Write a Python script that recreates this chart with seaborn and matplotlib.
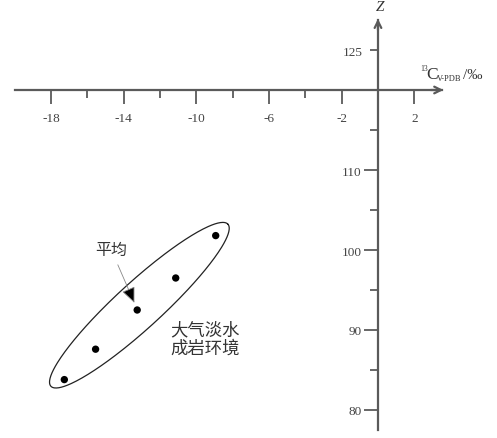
import numpy as np
import pandas as pd
import matplotlib.pyplot as plt
import seaborn as sns

# data
d13c = [-8.93, -11.13, -13.25, -15.54, -17.26]
z_val = [101.8, 96.5, 92.5, 87.6, 83.8]

x_major = [-18, -14, -10, -6, -2, 2]
x_minor = [-16, -12, -8, -4]
y_major = [80, 90, 100, 110]
y_minor = [85, 95, 105, 115, 125]
y_minor_labels = ['', '', '', '', '125']

df = pd.DataFrame({'d13C': d13c, 'Z': z_val})

sns.set_style('white')
plt.rcParams['font.family'] = ['Liberation Serif', 'Noto Sans CJK SC']
plt.rcParams['axes.unicode_minus'] = False

axis_col = '#5a5a5a'
txt_col = '#444444'

fig = plt.figure(figsize=(4.97, 4.39), dpi=100)
ax = fig.add_axes([0, 0, 1, 1])
ax.patch.set_visible(False)

sns.scatterplot(data=df, x='d13C', y='Z', color='black', s=28,
                edgecolor='none', ax=ax, zorder=3)
ax.set_xlabel('')
ax.set_ylabel('')

ax.set_xlim(-20.8, 6.55)
ax.set_ylim(76.5, 131.375)

# crossing axes
for s in ['top', 'right']:
    ax.spines[s].set_visible(False)
ax.spines['left'].set_position(('data', 0))
ax.spines['bottom'].set_position(('data', 120))
ax.spines['bottom'].set_bounds(-20.0, 3.5)
ax.spines['left'].set_bounds(77.5, 128.8)
for s in ['left', 'bottom']:
    ax.spines[s].set_color(axis_col)
    ax.spines[s].set_linewidth(1.6)

ax.annotate('', xy=(3.6, 120), xytext=(2.9, 120),
            arrowprops=dict(arrowstyle='->', color=axis_col, lw=1.6,
                            mutation_scale=12, shrinkA=0, shrinkB=0))
ax.annotate('', xy=(0, 128.9), xytext=(0, 127.5),
            arrowprops=dict(arrowstyle='->', color=axis_col, lw=1.6,
                            mutation_scale=12, shrinkA=0, shrinkB=0))

# ticks
ax.set_xticks(x_major)
ax.set_xticklabels([str(v) for v in x_major])
ax.set_xticks(x_minor, minor=True)
ax.set_yticks(y_major)
ax.set_yticklabels([str(v) for v in y_major])
ax.set_yticks(y_minor, minor=True)
ax.set_yticklabels(y_minor_labels, minor=True)

ax.tick_params(axis='x', which='both', bottom=True, top=False)
ax.tick_params(axis='y', which='both', left=True, right=False)
ax.tick_params(axis='x', which='major', direction='out', length=10, width=1.3,
               color=axis_col, labelcolor=txt_col, labelsize=9.5, pad=5.5)
ax.tick_params(axis='x', which='minor', direction='out', length=5.8, width=1.3,
               color=axis_col)
ax.tick_params(axis='y', which='major', direction='out', length=10, width=1.3,
               color=axis_col, labelcolor=txt_col, labelsize=9.5, pad=2)
ax.tick_params(axis='y', which='minor', direction='out', length=5.8, width=1.3,
               color=axis_col, labelcolor=txt_col, labelsize=9.5, pad=5.5)

# axis titles
ax.text(0.1, 130.5, 'Z', style='italic', fontsize=11, color='#333333',
        ha='center', va='center')
lab = dict(color='#333333', ha='left', va='baseline')
ax.text(2.30, 122.5, '13', fontsize=5.5, **lab)
ax.text(2.66, 121.44, 'C', fontsize=12.5, **lab)
ax.text(3.22, 121.25, 'V-PDB', fontsize=6, **lab)
ax.text(4.66, 121.44, '/‰', fontsize=11, **lab)

# enclosing ellipse
cx, cy = -13.13, 93.1
u = (4.87, 10.13)
v = (0.855, -2.12)
t = np.linspace(0, 2 * np.pi, 300)
ex = cx + u[0] * np.cos(t) + v[0] * np.sin(t)
ey = cy + u[1] * np.cos(t) + v[1] * np.sin(t)
ax.plot(ex, ey, color='#222222', lw=0.9)

# mean pointer
mx, my = np.mean(d13c), np.mean(z_val)
ax.annotate('平均', xy=(mx, my), xytext=(-14.69, 100.1),
            fontsize=11.5, color='#333333', family=['Noto Sans CJK SC'],
            ha='center', va='center',
            arrowprops=dict(arrowstyle='-|>,head_length=0.8,head_width=0.35',
                            ec='#888888', fc='black', lw=0.6,
                            mutation_scale=12, shrinkA=3, shrinkB=6))

ax.text(-11.45, 88.9, '大气淡水\n成岩环境', fontsize=12.5, color='#333333',
        family=['Noto Sans CJK SC'], ha='left', va='center', linespacing=1.05)

plt.savefig('out.png', dpi=100)
